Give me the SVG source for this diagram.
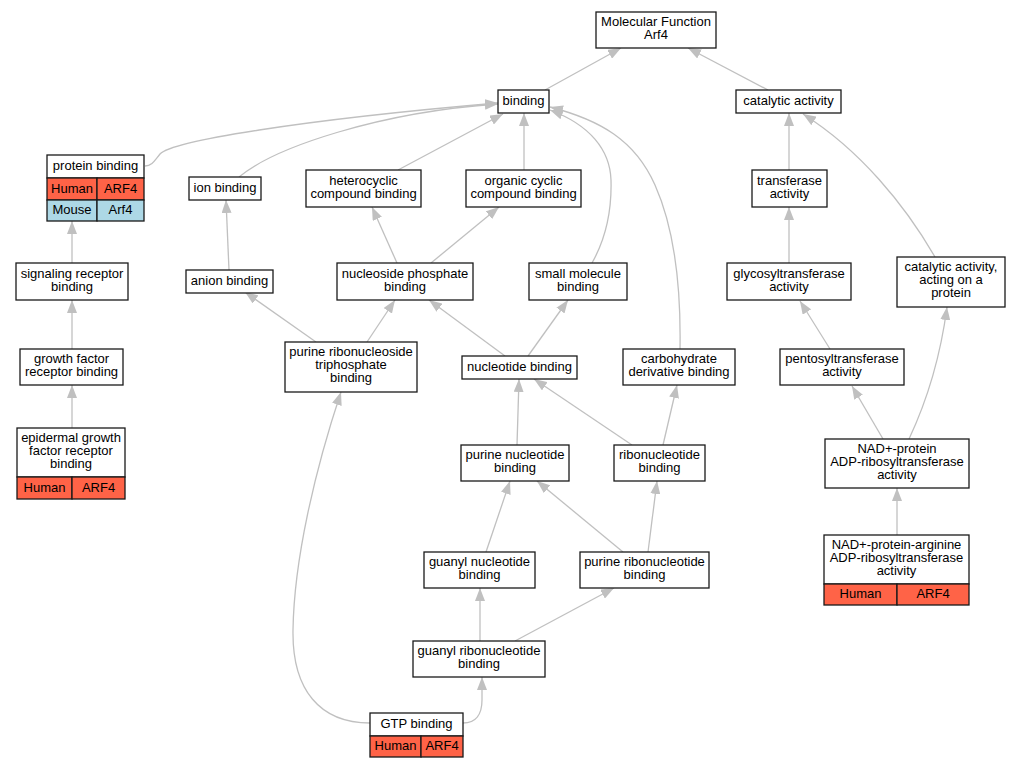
<svg xmlns="http://www.w3.org/2000/svg" width="1020" height="768" viewBox="0 0 1020 768">
<style>
text{font-family:"Liberation Sans",Arial,sans-serif;font-size:13px;text-anchor:middle;fill:#000}
.n rect{fill:#fff;stroke:#1a1a1a;stroke-width:1.3}
.n rect.hu{fill:#ff6347}
.n rect.mo{fill:#add8e6}
.e path{fill:none;stroke:#c0c0c0;stroke-width:1.3;marker-end:url(#a)}
</style>
<defs>
<marker id="a" markerUnits="userSpaceOnUse" markerWidth="13" markerHeight="10" viewBox="0 0 13 10" refX="13" refY="5" orient="auto">
<path d="M0,0 L13,5 L0,10 z" fill="#c0c0c0"/>
</marker>
</defs>
<rect width="1020" height="768" fill="#fff"/>
<g id="edges" class="e">
<path d="M545,90 L621,48"/>
<path d="M768,90 L688,48"/>
<path d="M145,166 C152,166 155,160 160,154 C172,141 300,120 498,103"/>
<path d="M239,177 C275,147 380,112 498,104"/>
<path d="M398,170 L503,114"/>
<path d="M524,170 L524,113"/>
<path d="M592,263 C605,240 612,215 611,180 C610,150 590,125 550,110"/>
<path d="M680,349 C681,290 675,230 655,185 C635,140 600,120 550,107"/>
<path d="M789,170 L789,113"/>
<path d="M935,257 C905,205 860,150 803,114"/>
<path d="M789,263 L789,207"/>
<path d="M830,349 L800,301"/>
<path d="M883,439 L852,386"/>
<path d="M909,439 C925,405 940,360 947,307"/>
<path d="M897,535 L897,488"/>
<path d="M72,263 L72,221"/>
<path d="M72,349 L72,300"/>
<path d="M72,428 L72,385"/>
<path d="M229,270 L226,200"/>
<path d="M316,342 L245,292"/>
<path d="M367,342 L395,300"/>
<path d="M397,263 L372,207"/>
<path d="M431,263 L499,207"/>
<path d="M505,356 L429,300"/>
<path d="M528,356 L568,300"/>
<path d="M517,445 L519,379"/>
<path d="M632,445 L534,379"/>
<path d="M663,445 L677,385"/>
<path d="M486,552 L510,481"/>
<path d="M623,552 L537,481"/>
<path d="M648,552 L657,481"/>
<path d="M480,641 L480,588"/>
<path d="M515,641 L614,588"/>
<path d="M463,723 C476,723 482,714 482,700 L482,677"/>
<path d="M370,723 C320,723 292,690 293,630 C294,560 315,470 341,392"/>
</g>
<g id="mf" class="n"><rect x="596" y="12" width="120" height="36"/><text x="656" y="26">Molecular Function</text><text x="656" y="39">Arf4</text></g>
<g id="binding" class="n"><rect x="498" y="90" width="51" height="23"/><text x="523.5" y="105">binding</text></g>
<g id="catalytic" class="n"><rect x="736" y="90" width="105" height="23"/><text x="788.5" y="105">catalytic activity</text></g>
<g id="protein_binding" class="n">
<rect x="47" y="155" width="97" height="23"/>
<rect class="hu" x="47" y="178" width="50" height="22"/><rect class="hu" x="97" y="178" width="47" height="22"/>
<rect class="mo" x="47" y="200" width="50" height="21"/><rect class="mo" x="97" y="200" width="47" height="21"/>
<text x="95.5" y="170">protein binding</text>
<text x="72" y="192.5">Human</text><text x="120.5" y="192.5">ARF4</text>
<text x="72" y="214">Mouse</text><text x="120.5" y="214">Arf4</text>
</g>
<g id="ion" class="n"><rect x="189" y="177" width="72" height="23"/><text x="225" y="192">ion binding</text></g>
<g id="hetero" class="n"><rect x="306" y="170" width="115" height="37"/><text x="363.5" y="184.5">heterocyclic</text><text x="363.5" y="197.5">compound binding</text></g>
<g id="organic" class="n"><rect x="466" y="170" width="115" height="37"/><text x="523.5" y="184.5">organic cyclic</text><text x="523.5" y="197.5">compound binding</text></g>
<g id="signaling" class="n"><rect x="16" y="263" width="112" height="37"/><text x="72" y="277.5">signaling receptor</text><text x="72" y="290.5">binding</text></g>
<g id="anion" class="n"><rect x="186" y="270" width="87" height="23"/><text x="229.5" y="285">anion binding</text></g>
<g id="nucphos" class="n"><rect x="337" y="263" width="136" height="37"/><text x="405" y="277.5">nucleoside phosphate</text><text x="405" y="290.5">binding</text></g>
<g id="smallmol" class="n"><rect x="529" y="263" width="98" height="37"/><text x="578" y="277.5">small molecule</text><text x="578" y="290.5">binding</text></g>
<g id="transferase" class="n"><rect x="752" y="170" width="75" height="37"/><text x="789.5" y="184.5">transferase</text><text x="789.5" y="197.5">activity</text></g>
<g id="glyco" class="n"><rect x="727" y="263" width="124" height="37"/><text x="789" y="277.5">glycosyltransferase</text><text x="789" y="290.5">activity</text></g>
<g id="catprot" class="n"><rect x="897" y="257" width="108" height="50"/><text x="951" y="271">catalytic activity,</text><text x="951" y="284">acting on a</text><text x="951" y="297">protein</text></g>
<g id="growth" class="n"><rect x="20" y="349" width="103" height="36"/><text x="71.5" y="363">growth factor</text><text x="71.5" y="376">receptor binding</text></g>
<g id="prtp" class="n"><rect x="285" y="342" width="132" height="50"/><text x="351" y="356">purine ribonucleoside</text><text x="351" y="369">triphosphate</text><text x="351" y="382">binding</text></g>
<g id="nucleotide" class="n"><rect x="462" y="356" width="115" height="23"/><text x="519.5" y="371">nucleotide binding</text></g>
<g id="carb" class="n"><rect x="623" y="349" width="112" height="36"/><text x="679" y="363">carbohydrate</text><text x="679" y="376">derivative binding</text></g>
<g id="pentosyl" class="n"><rect x="780" y="349" width="124" height="36"/><text x="842" y="363">pentosyltransferase</text><text x="842" y="376">activity</text></g>
<g id="purnuc" class="n"><rect x="461" y="445" width="108" height="36"/><text x="515" y="459">purine nucleotide</text><text x="515" y="472">binding</text></g>
<g id="ribonuc" class="n"><rect x="614" y="445" width="91" height="36"/><text x="659.5" y="459">ribonucleotide</text><text x="659.5" y="472">binding</text></g>
<g id="nadprot" class="n"><rect x="825" y="439" width="144" height="49"/><text x="897" y="452.5">NAD+-protein</text><text x="897" y="465.5">ADP-ribosyltransferase</text><text x="897" y="478.5">activity</text></g>
<g id="egf" class="n">
<rect x="17" y="428" width="108" height="49"/>
<rect class="hu" x="17" y="477" width="55" height="22"/><rect class="hu" x="72" y="477" width="53" height="22"/>
<text x="71" y="441.5">epidermal growth</text><text x="71" y="454.5">factor receptor</text><text x="71" y="467.5">binding</text>
<text x="44.5" y="491.5">Human</text><text x="98.5" y="491.5">ARF4</text>
</g>
<g id="guanylnuc" class="n"><rect x="424" y="552" width="111" height="36"/><text x="479.5" y="566">guanyl nucleotide</text><text x="479.5" y="579">binding</text></g>
<g id="purribo" class="n"><rect x="580" y="552" width="129" height="36"/><text x="644.5" y="566">purine ribonucleotide</text><text x="644.5" y="579">binding</text></g>
<g id="nadarg" class="n">
<rect x="824" y="535" width="145" height="49"/>
<rect class="hu" x="824" y="584" width="73" height="21"/><rect class="hu" x="897" y="584" width="72" height="21"/>
<text x="896.5" y="548.5">NAD+-protein-arginine</text><text x="896.5" y="561.5">ADP-ribosyltransferase</text><text x="896.5" y="574.5">activity</text>
<text x="860.5" y="598">Human</text><text x="933" y="598">ARF4</text>
</g>
<g id="guanylribo" class="n"><rect x="413" y="641" width="132" height="36"/><text x="479" y="655">guanyl ribonucleotide</text><text x="479" y="668">binding</text></g>
<g id="gtp" class="n">
<rect x="370" y="713" width="93" height="23"/>
<rect class="hu" x="370" y="736" width="51" height="21"/><rect class="hu" x="421" y="736" width="42" height="21"/>
<text x="416.5" y="728">GTP binding</text>
<text x="395.5" y="750">Human</text><text x="442" y="750">ARF4</text>
</g>
</svg>
